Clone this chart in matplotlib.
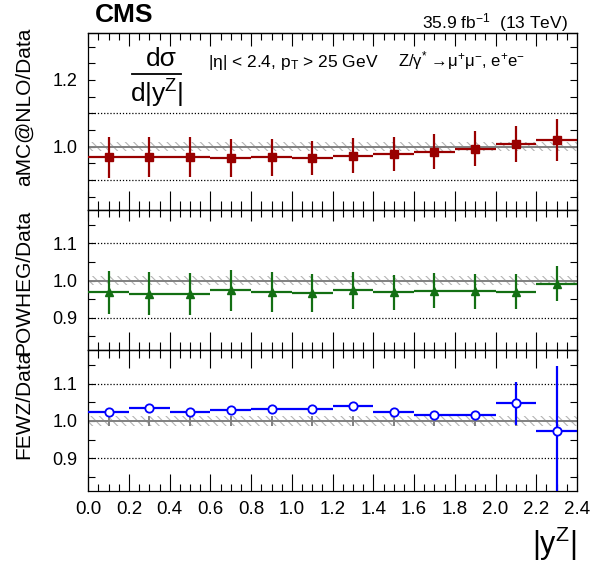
import numpy as np
import matplotlib
matplotlib.use("Agg")
import matplotlib.pyplot as plt
from matplotlib.ticker import MultipleLocator, FormatStrFormatter

plt.rcParams['font.family'] = ['Liberation Sans', 'DejaVu Sans']
plt.rcParams['mathtext.fontset'] = 'custom'
plt.rcParams['mathtext.rm'] = 'Liberation Sans'
plt.rcParams['mathtext.it'] = 'Liberation Sans:italic'
plt.rcParams['hatch.linewidth'] = 0.8

# |y^Z| binning
bin_edges = [0.0, 0.2, 0.4, 0.6, 0.8, 1.0, 1.2, 1.4, 1.6, 1.8, 2.0, 2.2, 2.4]

# relative data uncertainty (band around 1)
data_unc = [0.013, 0.013, 0.013, 0.013, 0.013, 0.013, 0.013, 0.013, 0.013, 0.013, 0.013, 0.013]

# theory / data ratios
amc = [0.968, 0.969, 0.968, 0.966, 0.968, 0.966, 0.973, 0.978, 0.985, 0.994, 1.008, 1.020]
amc_err = [0.062, 0.061, 0.060, 0.057, 0.055, 0.052, 0.052, 0.051, 0.052, 0.052, 0.054, 0.062]

powheg = [0.968, 0.965, 0.964, 0.974, 0.969, 0.967, 0.974, 0.968, 0.973, 0.971, 0.970, 0.991]
powheg_err = [0.059, 0.058, 0.057, 0.055, 0.054, 0.051, 0.050, 0.048, 0.047, 0.048, 0.047, 0.047]

fewz = [1.023, 1.034, 1.024, 1.029, 1.033, 1.031, 1.040, 1.023, 1.016, 1.017, 1.047, 0.973]
fewz_err = [0.008, 0.007, 0.006, 0.006, 0.006, 0.005, 0.005, 0.007, 0.007, 0.008, 0.057, 0.173]

edges = np.array(bin_edges)
centers = 0.5 * (edges[:-1] + edges[1:])
half_w = 0.5 * np.diff(edges)
unc = np.array(data_unc)

fig = plt.figure(figsize=(5.93, 5.71), dpi=100)

W = 593.0
H = 571.0
left = 88.3 / W
width = (577.0 - 88.3) / W


def panel(top_px, bot_px):
    return fig.add_axes([left, 1 - bot_px / H, width, (bot_px - top_px) / H])


def px(v):
    return v * 0.72


def style(ax, ylim, ymajor, top_len, bot_len):
    ax.set_xlim(0, 2.4)
    ax.set_ylim(*ylim)
    for s in ax.spines.values():
        s.set_linewidth(0.9)
    ax.xaxis.set_major_locator(MultipleLocator(0.2))
    ax.xaxis.set_minor_locator(MultipleLocator(0.05))
    ax.yaxis.set_major_locator(MultipleLocator(ymajor))
    ax.yaxis.set_minor_locator(MultipleLocator(0.05))
    ax.yaxis.set_major_formatter(FormatStrFormatter('%.1f'))
    ax.xaxis.set_major_formatter(FormatStrFormatter('%.1f'))
    ax.tick_params(axis='y', which='both', direction='in', left=True, right=True,
                   length=px(7), width=0.8, labelsize=13, pad=px(11))
    ax.tick_params(axis='x', which='major', direction='in', top=False, bottom=True,
                   length=px(bot_len[0]), width=0.8, labelsize=13.5, pad=px(10))
    ax.tick_params(axis='x', which='minor', direction='in', top=False, bottom=True,
                   length=px(bot_len[1]), width=0.8)
    # separate tick lengths on the upper edge
    sec = ax.secondary_xaxis('top')
    sec.xaxis.set_major_locator(MultipleLocator(0.2))
    sec.xaxis.set_minor_locator(MultipleLocator(0.05))
    sec.tick_params(axis='x', which='major', direction='in', length=px(top_len[0]),
                    width=0.8, labeltop=False)
    sec.tick_params(axis='x', which='minor', direction='in', length=px(top_len[1]),
                    width=0.8)
    sec.spines['top'].set_linewidth(0.9)

    # data reference: hatched band, grey line and error ticks
    ax.fill_between(edges, np.r_[1 - unc, 1 - unc[-1]], np.r_[1 + unc, 1 + unc[-1]],
                    step='post', facecolor='none', edgecolor='#b4b4b4',
                    hatch='\\\\\\\\', linewidth=0, zorder=1)
    ax.axhline(1.0, color='#808080', lw=1.4, zorder=2)
    ax.errorbar(centers, np.ones_like(centers), yerr=unc, fmt='none',
                ecolor='#808080', elinewidth=1.4, zorder=2)
    ax.axhline(1.1, color='black', ls=(0, (1, 1.5)), lw=0.9, zorder=1)
    ax.axhline(0.9, color='black', ls=(0, (1, 1.5)), lw=0.9, zorder=1)


ax1 = panel(33, 210)
ax2 = panel(210, 350)
ax3 = panel(350, 491)

style(ax1, (0.81, 1.341), 0.2, (13, 7), (19, 9))
style(ax2, (0.813, 1.19), 0.1, (11, 7), (18, 8))
style(ax3, (0.812, 1.19), 0.1, (18, 8), (17, 7))

ax1.tick_params(axis='x', labelbottom=False)
ax2.tick_params(axis='x', labelbottom=False)

ax1.errorbar(centers, amc, xerr=half_w, yerr=amc_err, fmt='s', color='#990000',
             ms=5.5, elinewidth=1.6, capsize=0, zorder=4)
ax2.errorbar(centers, powheg, xerr=half_w, yerr=powheg_err, fmt='^', color='#136f13',
             ms=6, elinewidth=1.6, capsize=0, zorder=4)
ax3.errorbar(centers, fewz, xerr=half_w, yerr=fewz_err, fmt='o', color='#0000ff',
             mfc='white', mec='#0000ff', mew=1.3, ms=6, elinewidth=1.6, capsize=0, zorder=4)

for ax, label, ytop in [(ax1, 'aMC@NLO/Data', 1.03), (ax2, 'POWHEG/Data', 1.0),
                        (ax3, 'FEWZ/Data', 1.0)]:
    ax.set_ylabel(label, fontsize=15, loc='top')
    ax.yaxis.set_label_coords(-0.112, ytop)

ax3.set_xlabel(r'$\mathregular{|y^{Z}|}$', fontsize=22, loc='right')
ax3.xaxis.set_label_coords(1.0, -0.24)

# header
ax1.text(0.014, 1.062, 'CMS', transform=ax1.transAxes, fontsize=19,
         fontweight='bold', ha='left', va='baseline')
ax1.text(0.982, 1.028, r'35.9 fb$^{\mathregular{-1}}$  (13 TeV)', transform=ax1.transAxes,
         fontsize=12.5, ha='right', va='baseline')

# dsigma / d|y| label inside the top panel
ax1.text(0.15, 0.812, 'dσ', transform=ax1.transAxes,
         fontsize=19, ha='center', va='baseline')
ax1.plot([0.089, 0.189], [0.768, 0.768], transform=ax1.transAxes, color='black',
         lw=1.3, clip_on=False)
ax1.text(0.139, 0.605, r'd|y$^{\mathregular{Z}}$|', transform=ax1.transAxes,
         fontsize=19, ha='center', va='baseline')

ax1.text(0.245, 0.81, r'|η| < 2.4, p$_{\mathregular{T}}$ > 25 GeV',
         transform=ax1.transAxes, fontsize=12.5, ha='left', va='baseline')
ax1.text(0.634, 0.81, r'Z/γ$^{*}$ →μ$^{+}$μ$^{-}$, e$^{+}$e$^{-}$',
         transform=ax1.transAxes, fontsize=12, ha='left', va='baseline')

fig.savefig('out.png', dpi=100)
